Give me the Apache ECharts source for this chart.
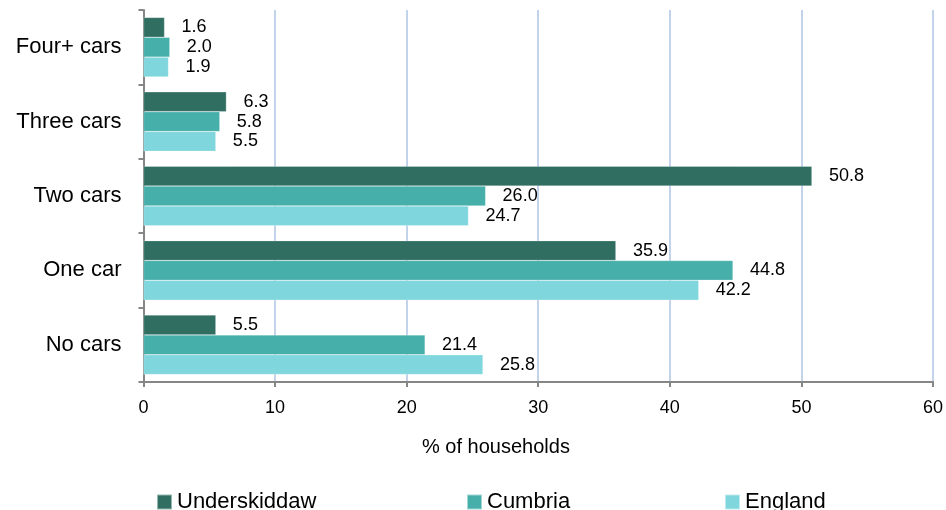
<!DOCTYPE html>
<html>
<head>
<meta charset="utf-8">
<script src="https://cdn.jsdelivr.net/npm/echarts@6/dist/echarts.min.js"></script>
<style>
html,body{margin:0;padding:0;background:#fff;}
#chart{width:946px;height:510px;}
</style>
</head>
<body>
<div id="chart"></div>
<script>
const categories = ['No cars', 'One car', 'Two cars', 'Three cars', 'Four+ cars'];
const underskiddaw = [5.5, 35.9, 50.8, 6.3, 1.6];
const cumbria = [21.4, 44.8, 26.0, 5.8, 2.0];
const england = [25.8, 42.2, 24.7, 5.5, 1.9];
const seriesNames = ['Underskiddaw', 'Cumbria', 'England'];
const colors = ['#316e62', '#46afaa', '#7fd6dc'];
const xTicks = {min: 0, max: 60, interval: 10};

const FONT = 'Liberation Sans, Arial, sans-serif';
const chart = echarts.init(document.getElementById('chart'), null, {renderer: 'canvas'});

function mkSeries(name, data, color) {
  return {
    name: name,
    type: 'bar',
    data: data,
    barGap: '0%',
    barCategoryGap: '20%',
    itemStyle: {color: color, borderColor: 'rgba(255,255,255,0.5)', borderWidth: 0.5},
    label: {
      show: true,
      position: 'right',
      distance: 17,
      color: '#000',
      fontFamily: FONT,
      fontSize: 18,
      formatter: p => p.value.toFixed(1)
    },
    emphasis: {disabled: true},
    animation: false
  };
}

const legendBase = {
  itemWidth: 15, itemHeight: 15, icon: 'rect', selectedMode: false,
  padding: 0,
  textStyle: {fontFamily: FONT, fontSize: 22, color: '#000'},
  top: 491
};

chart.setOption({
  animation: false,
  grid: {left: 143.5, right: 11, top: 10, bottom: 128, containLabel: false},
  title: {
    text: '% of households',
    left: 417, top: 432,
    textStyle: {fontFamily: FONT, fontSize: 20, fontWeight: 'normal', color: '#000'}
  },
  legend: [
    Object.assign({}, legendBase, {left: 156, data: [seriesNames[0]]}),
    Object.assign({}, legendBase, {left: 466, data: [seriesNames[1]]}),
    Object.assign({}, legendBase, {left: 724, data: [seriesNames[2]]})
  ],
  xAxis: {
    type: 'value',
    min: xTicks.min, max: xTicks.max, interval: xTicks.interval,
    axisLine: {show: true, lineStyle: {color: '#868686', width: 2}},
    axisTick: {show: true, length: 5, lineStyle: {color: '#868686', width: 2}},
    axisLabel: {fontFamily: FONT, fontSize: 18, color: '#000', margin: 17},
    splitLine: {show: true, lineStyle: {color: '#c3d3ea', width: 2}}
  },
  yAxis: {
    type: 'category',
    data: categories,
    axisLine: {show: true, lineStyle: {color: '#868686', width: 2}},
    axisTick: {show: true, length: 5, inside: false, lineStyle: {color: '#868686', width: 2}},
    axisLabel: {fontFamily: FONT, fontSize: 22, color: '#000', margin: 22},
    splitLine: {show: false}
  },
  series: [
    mkSeries(seriesNames[0], underskiddaw, colors[0]),
    mkSeries(seriesNames[1], cumbria, colors[1]),
    mkSeries(seriesNames[2], england, colors[2])
  ]
});
</script>
</body>
</html>
